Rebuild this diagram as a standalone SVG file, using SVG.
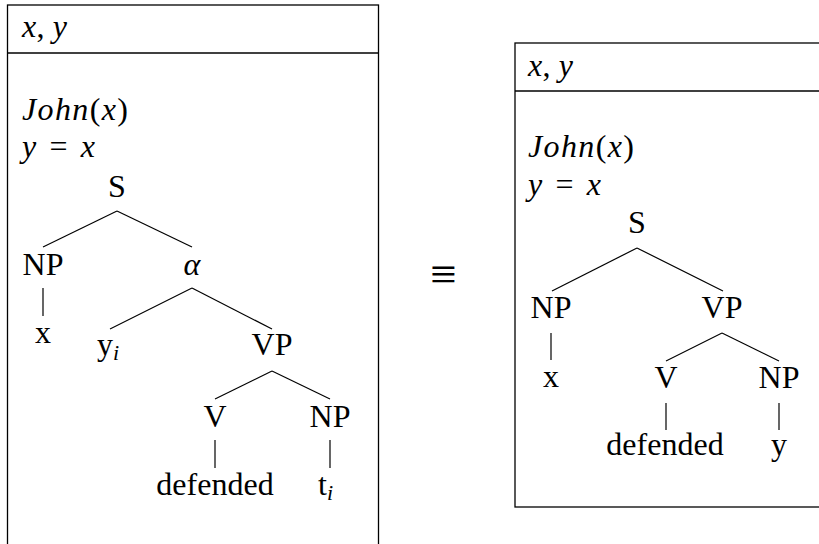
<svg xmlns="http://www.w3.org/2000/svg" width="819" height="544" viewBox="0 0 819 544">
<style>
.box{fill:none;stroke:#000;stroke-width:1.3}
.e line{stroke:#000;stroke-width:1.2}
text{font-family:"Liberation Serif","DejaVu Serif",serif;font-size:32px;fill:#000}
.t{text-anchor:middle}
.i{font-style:italic}
.r{font-style:normal}
.sub{font-size:22px;font-style:italic}
</style>
<rect width="819" height="544" fill="#fff"/>

<g id="drs-left">
<rect class="box" x="7.5" y="5" width="371" height="560"/>
<line class="box" x1="7.5" y1="53" x2="378.5" y2="53"/>
<text x="22" y="37" class="i" textLength="45" lengthAdjust="spacing">x<tspan class="r">,</tspan> y</text>
<text x="22" y="120" class="i" textLength="106" lengthAdjust="spacing">John<tspan class="r">(</tspan>x<tspan class="r">)</tspan></text>
<text x="22" y="157" class="i" textLength="73" lengthAdjust="spacing">y <tspan class="r">=</tspan> x</text>
</g>

<g id="drs-right">
<rect class="box" x="515" y="43" width="400" height="464"/>
<line class="box" x1="515" y1="91" x2="819" y2="91"/>
<text x="528" y="76" class="i" textLength="45" lengthAdjust="spacing">x<tspan class="r">,</tspan> y</text>
<text x="528" y="157" class="i" textLength="106" lengthAdjust="spacing">John<tspan class="r">(</tspan>x<tspan class="r">)</tspan></text>
<text x="528" y="195" class="i" textLength="73" lengthAdjust="spacing">y <tspan class="r">=</tspan> x</text>
</g>

<g id="equiv"><text x="443.5" y="290" class="t" style="font-size:47px">≡</text></g>

<g id="L-S"><text x="117" y="197" class="t">S</text></g>
<g id="L-NP"><text x="43" y="275" class="t">NP</text></g>
<g id="L-alpha"><text x="192" y="275" class="t i">α</text></g>
<g id="L-x"><text x="43" y="343" class="t">x</text></g>
<g id="L-yi"><text x="97" y="355">y<tspan class="sub" dy="5">i</tspan></text></g>
<g id="L-VP"><text x="272" y="355" class="t">VP</text></g>
<g id="L-V"><text x="215" y="427" class="t">V</text></g>
<g id="L-NP2"><text x="330" y="427" class="t">NP</text></g>
<g id="L-defended"><text x="215" y="495" class="t">defended</text></g>
<g id="L-ti"><text x="318" y="495">t<tspan class="sub" dy="5">i</tspan></text></g>

<g id="R-S"><text x="637" y="233" class="t">S</text></g>
<g id="R-NP"><text x="551" y="318" class="t">NP</text></g>
<g id="R-VP"><text x="722" y="318" class="t">VP</text></g>
<g id="R-x"><text x="551" y="387" class="t">x</text></g>
<g id="R-V"><text x="666" y="388" class="t">V</text></g>
<g id="R-NP2"><text x="779" y="388" class="t">NP</text></g>
<g id="R-defended"><text x="665" y="455" class="t">defended</text></g>
<g id="R-y"><text x="779" y="455" class="t">y</text></g>

<g id="edges" class="e">
<line x1="117" y1="211" x2="43" y2="247"/>
<line x1="117" y1="211" x2="192" y2="247"/>
<line x1="43" y1="288" x2="43" y2="316"/>
<line x1="192" y1="288" x2="110" y2="329"/>
<line x1="192" y1="288" x2="272" y2="329"/>
<line x1="272" y1="371" x2="215" y2="399"/>
<line x1="272" y1="371" x2="330" y2="399"/>
<line x1="215" y1="440" x2="215" y2="468"/>
<line x1="330" y1="440" x2="330" y2="468"/>
<line x1="637" y1="248" x2="552" y2="291"/>
<line x1="637" y1="248" x2="723" y2="291"/>
<line x1="551" y1="333" x2="551" y2="360"/>
<line x1="722" y1="333" x2="666" y2="361"/>
<line x1="722" y1="333" x2="779" y2="361"/>
<line x1="666" y1="403" x2="666" y2="430"/>
<line x1="779" y1="403" x2="779" y2="430"/>
</g>
</svg>
